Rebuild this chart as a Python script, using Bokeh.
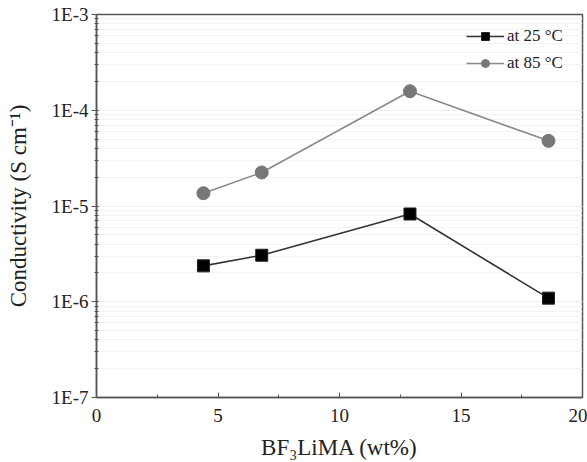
from bokeh.plotting import figure
from bokeh.models import (ColumnDataSource, CustomJSTickFormatter, FixedTicker,
                          Legend, LegendItem, Range1d, LogTicker)
from bokeh.embed import file_html
from bokeh.resources import INLINE

# BF3LiMA content (wt%) and ionic conductivity (S/cm)
wt_pct = [4.4, 6.8, 12.9, 18.6]
cond_25C = [2.37e-6, 3.06e-6, 8.25e-6, 1.09e-6]
cond_85C = [1.36e-5, 2.24e-5, 1.58e-4, 4.79e-5]
x_ticks = [0, 5, 10, 15, 20]
series_labels = ["at 25 \u00b0C", "at 85 \u00b0C"]

FONT = "Liberation Serif"

p = figure(width=587, height=462, y_axis_type="log",
           x_range=Range1d(0, 20), y_range=Range1d(1e-7, 1e-3),
           output_backend="svg", toolbar_location=None,
           min_border_left=96, min_border_right=5,
           min_border_top=14, min_border_bottom=64)

p.outline_line_color = "#555555"
p.outline_line_width = 1.5
p.background_fill_color = "white"
p.border_fill_color = "white"

# faint horizontal grid at every decade subdivision
p.xgrid.grid_line_color = None
p.ygrid.grid_line_color = "#eeeeee"
p.ygrid.minor_grid_line_color = "#f3f3f3"

# x axis
p.xaxis.ticker = FixedTicker(ticks=x_ticks, minor_ticks=[2.5, 7.5, 12.5, 17.5])
p.xaxis.axis_label = "BF\u2083LiMA (wt%)"
# y axis
p.yaxis.ticker = LogTicker(num_minor_ticks=10)
p.yaxis.formatter = CustomJSTickFormatter(
    code="return '1E' + Math.round(Math.log10(tick));")
p.yaxis.axis_label = "Conductivity (S cm\u207b\u00b9)"

for ax in (p.xaxis[0], p.yaxis[0]):
    ax.axis_line_color = "#555555"
    ax.axis_line_width = 1.5
    ax.major_tick_line_color = "#555555"
    ax.minor_tick_line_color = "#555555"
    ax.major_label_text_font = FONT
    ax.major_label_text_font_size = "19px"
    ax.major_label_text_color = "#222222"
    ax.axis_label_text_font = FONT
    ax.axis_label_text_font_size = "23px"
    ax.axis_label_text_font_style = "normal"
    ax.axis_label_text_color = "#222222"

p.xaxis.major_tick_out = 0
p.xaxis.major_tick_in = 5
p.xaxis.minor_tick_out = 0
p.xaxis.minor_tick_in = 3
p.yaxis.major_tick_out = 5
p.yaxis.major_tick_in = 0
p.yaxis.minor_tick_out = 2
p.yaxis.minor_tick_in = 2

p.xaxis.major_label_standoff = 11
p.xaxis.axis_label_standoff = 10
p.yaxis.major_label_standoff = 3
p.yaxis.axis_label_standoff = 18

src25 = ColumnDataSource(dict(x=wt_pct, y=cond_25C))
src85 = ColumnDataSource(dict(x=wt_pct, y=cond_85C))

l25 = p.line("x", "y", source=src25, line_color="#333333", line_width=1.6)
m25 = p.scatter("x", "y", source=src25, marker="square", size=12,
                fill_color="black", line_color="#222222")
l85 = p.line("x", "y", source=src85, line_color="#8a8a8a", line_width=1.6)
m85 = p.scatter("x", "y", source=src85, marker="circle", size=13,
                fill_color="#777777", line_color="#777777")

legend = Legend(items=[LegendItem(label=series_labels[0], renderers=[l25, m25]),
                       LegendItem(label=series_labels[1], renderers=[l85, m85])],
                location=(370, 324), border_line_color=None,
                background_fill_alpha=0.0,
                label_text_font=FONT, label_text_font_size="17px",
                label_text_color="#222222",
                glyph_width=38, glyph_height=20, spacing=7,
                label_standoff=3, margin=0, padding=6)
p.add_layout(legend)

open("out.html", "w").write(file_html(p, INLINE))
